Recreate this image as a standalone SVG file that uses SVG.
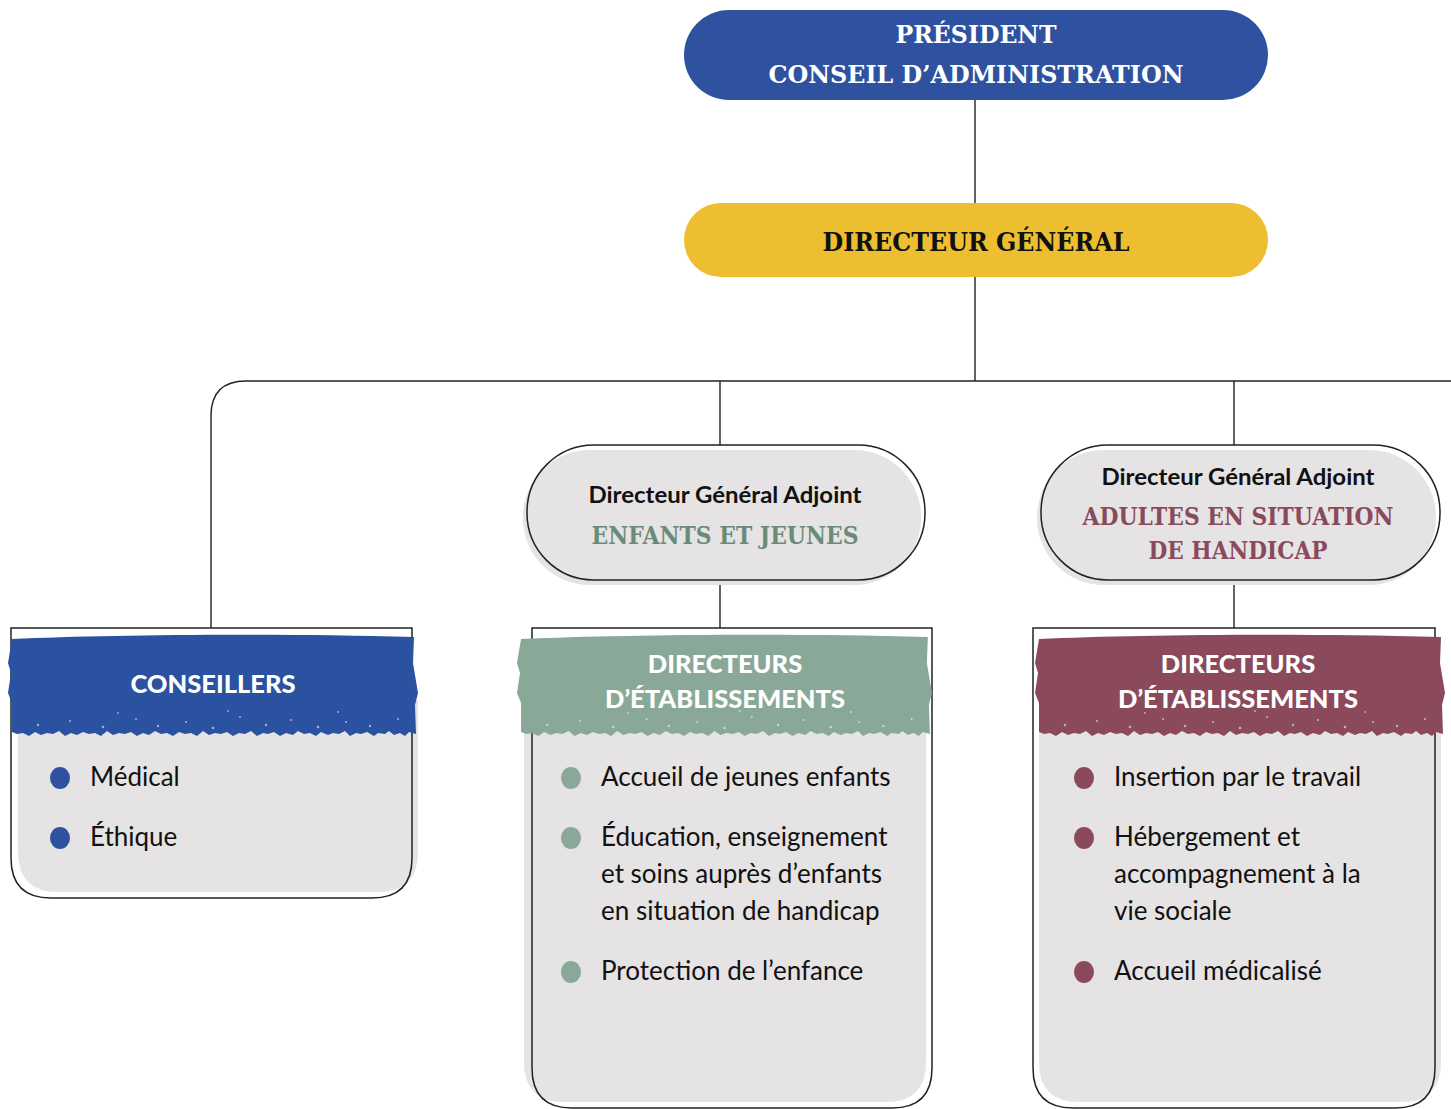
<svg xmlns="http://www.w3.org/2000/svg" xmlns:xlink="http://www.w3.org/1999/xlink" width="1451" height="1109" viewBox="0 0 1451 1109">
<style>
.slab{font-family:"DejaVu Serif","Liberation Serif",serif;font-weight:bold;text-anchor:middle}
.sub{font-family:Lato,"Open Sans",sans-serif;font-weight:bold;font-size:22px;fill:#111;text-anchor:middle}
.hdr{font-family:Lato,"Open Sans",sans-serif;font-weight:900;font-size:25.5px;fill:#fff;text-anchor:middle}
.body{font-family:Lato,"Open Sans",sans-serif;font-size:26px;fill:#111}
.line{fill:none;stroke:#222;stroke-width:1.4}
.outline{fill:none;stroke:#222;stroke-width:1.5}
.shade{fill:#E5E3E4}
.speck{fill:#fff;opacity:0.55}
</style>
<defs>
<g id="brush">
<path d="M4,6 C100,2 250,0 406,4 L405,30 L410,60 L407,72 L408,101 L401,99 L397,103 L392,100 L386,102 L381,98 L377,101 L370,100 L366,103 L359,99 L353,101 L348,100 L342,103 L337,98 L331,101 L325,100 L320,102 L313,99 L308,103 L302,100 L296,101 L290,98 L285,102 L278,100 L272,103 L266,99 L260,101 L255,100 L249,103 L243,98 L237,101 L231,100 L225,103 L219,99 L213,101 L207,100 L201,102 L195,98 L189,103 L183,100 L177,101 L171,99 L165,103 L159,100 L153,101 L147,98 L141,102 L135,100 L129,103 L123,99 L117,101 L111,100 L105,102 L99,98 L93,103 L87,100 L81,101 L75,99 L69,102 L63,100 L57,103 L51,98 L45,101 L39,100 L33,102 L27,99 L21,103 L15,100 L9,101 L4,99 L4,70 L0,60 L3,40 L0,30 Z"/>
<circle class="speck" cx="30" cy="92" r="1.2"/>
<circle class="speck" cx="62" cy="88" r="1"/>
<circle class="speck" cx="95" cy="94" r="1.3"/>
<circle class="speck" cx="128" cy="86" r="1"/>
<circle class="speck" cx="150" cy="93" r="1.2"/>
<circle class="speck" cx="178" cy="89" r="1"/>
<circle class="speck" cx="205" cy="95" r="1.3"/>
<circle class="speck" cx="232" cy="84" r="1"/>
<circle class="speck" cx="258" cy="92" r="1.2"/>
<circle class="speck" cx="283" cy="87" r="1"/>
<circle class="speck" cx="310" cy="94" r="1.3"/>
<circle class="speck" cx="338" cy="89" r="1"/>
<circle class="speck" cx="362" cy="93" r="1.2"/>
<circle class="speck" cx="390" cy="86" r="1"/>
<circle class="speck" cx="220" cy="78" r="0.9"/>
<circle class="speck" cx="110" cy="80" r="0.9"/>
<circle class="speck" cx="330" cy="79" r="0.9"/>
</g>
</defs>

<g id="connectors">
<line class="line" x1="975" y1="100" x2="975" y2="203"/>
<line class="line" x1="975" y1="277" x2="975" y2="381"/>
<path class="line" d="M1451,381 L246,381 Q211,381 211,416 L211,628"/>
<line class="line" x1="720" y1="381" x2="720" y2="445"/>
<line class="line" x1="720" y1="580" x2="720" y2="628"/>
<line class="line" x1="1234" y1="381" x2="1234" y2="445"/>
<line class="line" x1="1234" y1="580" x2="1234" y2="628"/>
</g>

<g id="president">
<rect x="684" y="10" width="584" height="90" rx="45" fill="#2E52A0"/>
<text class="slab" x="976" y="43" font-size="25" fill="#fff" textLength="161" lengthAdjust="spacingAndGlyphs">PRÉSIDENT</text>
<text class="slab" x="976" y="83" font-size="25" fill="#fff" textLength="415" lengthAdjust="spacingAndGlyphs">CONSEIL D’ADMINISTRATION</text>
</g>

<g id="dg">
<rect x="684" y="203" width="584" height="74" rx="37" fill="#EEBE31"/>
<text class="slab" x="976" y="251" font-size="26" fill="#111" textLength="307" lengthAdjust="spacingAndGlyphs">DIRECTEUR GÉNÉRAL</text>
</g>

<g id="dga-enfants">
<rect class="shade" x="523" y="450" width="398" height="135" rx="67"/>
<rect class="outline" x="527" y="445" width="398" height="135" rx="67"/>
<text class="sub" x="725" y="503" textLength="273" lengthAdjust="spacingAndGlyphs">Directeur Général Adjoint</text>
<text class="slab" x="725" y="544" font-size="24" fill="#6B8B79" textLength="267" lengthAdjust="spacingAndGlyphs">ENFANTS ET JEUNES</text>
</g>

<g id="dga-adultes">
<rect class="shade" x="1037" y="450" width="399" height="135" rx="67"/>
<rect class="outline" x="1041" y="445" width="399" height="135" rx="67"/>
<text class="sub" x="1238" y="485" textLength="273" lengthAdjust="spacingAndGlyphs">Directeur Général Adjoint</text>
<text class="slab" x="1238" y="525" font-size="24" fill="#8B4A5C" textLength="311" lengthAdjust="spacingAndGlyphs">ADULTES EN SITUATION</text>
<text class="slab" x="1238" y="559" font-size="24" fill="#8B4A5C" textLength="179" lengthAdjust="spacingAndGlyphs">DE HANDICAP</text>
</g>

<g id="conseillers">
<path class="shade" d="M18,700 L418,700 L418,852 Q418,892 378,892 L58,892 Q18,892 18,852 Z"/>
<path class="outline" d="M11,628 L412,628 L412,858 Q412,898 372,898 L51,898 Q11,898 11,858 Z"/>
<use xlink:href="#brush" x="8" y="633" fill="#2A52A0"/>
<text class="hdr" x="213" y="693">CONSEILLERS</text>
<ellipse cx="60" cy="778" rx="10" ry="11" fill="#2E52A0"/>
<ellipse cx="60" cy="838" rx="10" ry="11" fill="#2E52A0"/>
<text class="body" x="90" y="786">Médical</text>
<text class="body" x="90" y="846">Éthique</text>
</g>

<g id="directeurs-enfants">
<path class="shade" d="M524,700 L926,700 L926,1062 Q926,1102 886,1102 L564,1102 Q524,1102 524,1062 Z"/>
<path class="outline" d="M532,628 L932,628 L932,1068 Q932,1108 892,1108 L572,1108 Q532,1108 532,1068 Z"/>
<use xlink:href="#brush" transform="translate(517,633) scale(1.012,1)" fill="#8AA898"/>
<text class="hdr" x="725" y="673">DIRECTEURS</text>
<text class="hdr" x="725" y="708">D’ÉTABLISSEMENTS</text>
<ellipse cx="571" cy="778" rx="10" ry="11" fill="#8AA898"/>
<ellipse cx="571" cy="838" rx="10" ry="11" fill="#8AA898"/>
<ellipse cx="571" cy="972" rx="10" ry="11" fill="#8AA898"/>
<text class="body" x="601" y="786">Accueil de jeunes enfants</text>
<text class="body" x="601" y="846">Éducation, enseignement</text>
<text class="body" x="601" y="883">et soins auprès d’enfants</text>
<text class="body" x="601" y="920">en situation de handicap</text>
<text class="body" x="601" y="980">Protection de l’enfance</text>
</g>

<g id="directeurs-adultes">
<path class="shade" d="M1039,700 L1441,700 L1441,1062 Q1441,1102 1401,1102 L1079,1102 Q1039,1102 1039,1062 Z"/>
<path class="outline" d="M1033,628 L1435,628 L1435,1068 Q1435,1108 1395,1108 L1073,1108 Q1033,1108 1033,1068 Z"/>
<use xlink:href="#brush" x="1035" y="633" fill="#8B4A5C"/>
<text class="hdr" x="1238" y="673">DIRECTEURS</text>
<text class="hdr" x="1238" y="708">D’ÉTABLISSEMENTS</text>
<ellipse cx="1084" cy="778" rx="10" ry="11" fill="#8B4A5C"/>
<ellipse cx="1084" cy="838" rx="10" ry="11" fill="#8B4A5C"/>
<ellipse cx="1084" cy="972" rx="10" ry="11" fill="#8B4A5C"/>
<text class="body" x="1114" y="786">Insertion par le travail</text>
<text class="body" x="1114" y="846">Hébergement et</text>
<text class="body" x="1114" y="883">accompagnement à la</text>
<text class="body" x="1114" y="920">vie sociale</text>
<text class="body" x="1114" y="980">Accueil médicalisé</text>
</g>
</svg>
